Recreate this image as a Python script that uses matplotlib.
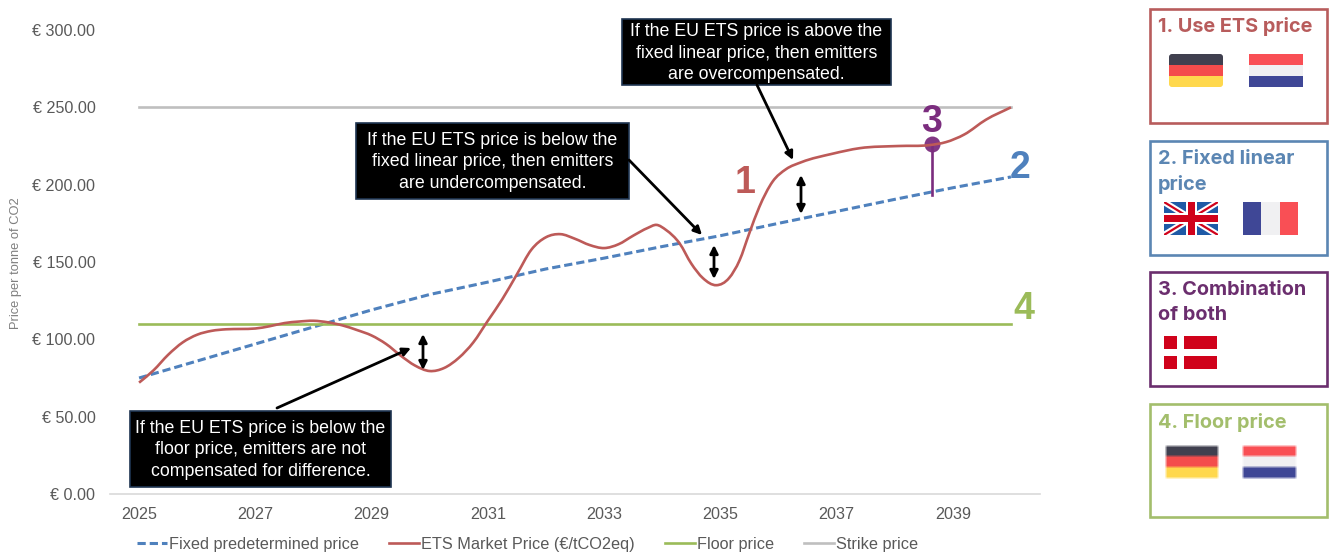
import numpy as np
import matplotlib
matplotlib.use("Agg")
import matplotlib.pyplot as plt
from matplotlib.patches import Rectangle, FancyBboxPatch, PathPatch
from matplotlib.path import Path

plt.rcParams['font.family'] = ['Liberation Sans', 'DejaVu Sans']

# annual values of the fixed price path
fixed_years = [2025, 2026, 2027, 2028, 2029, 2030, 2031, 2032, 2033, 2034, 2035, 2036, 2037, 2038, 2039, 2040]
fixed_prices = [75, 86, 97, 108, 119, 129, 137, 145.5, 152.5, 160, 167, 175, 182.7, 190.5, 198, 205]

# ETS market price, read along the curve so the years are not evenly spaced
ets_years = [2025, 2025.25, 2025.5, 2025.75, 2026, 2026.25, 2026.5, 2026.75, 2027, 2027.25, 2027.5, 2027.75,
             2028, 2028.25, 2028.5, 2028.75, 2029, 2029.25, 2029.5, 2029.75, 2030, 2030.25, 2030.5, 2030.75,
             2031, 2031.25, 2031.5, 2031.75, 2032, 2032.25, 2032.5, 2032.75, 2033, 2033.25, 2033.5, 2033.75,
             2033.9, 2034.07, 2034.3, 2034.5, 2034.7, 2034.93, 2035.15, 2035.33, 2035.5, 2035.67, 2035.9,
             2036.13, 2036.4, 2036.93, 2037.4, 2038.07, 2038.6, 2038.88, 2039.2, 2039.57, 2040]
ets_prices = [72, 80, 90, 98, 103, 105.5, 106.5, 106.7, 107, 108.5, 110.5, 111.5,
              112, 111, 109, 106, 102.5, 97, 89.5, 83, 79.5, 81.5, 88, 98,
              112, 126, 142, 158, 166, 168, 165, 161, 159, 161.5, 167, 172,
              174, 170.6, 162, 149, 139.6, 135, 139.6, 151, 168.7, 185.5, 202,
              210, 214.6, 220, 223.6, 225, 225.6, 227.5, 232.5, 242, 250]

floor_price = 110
strike_price = 250
both_year = 2038.65
both_top = 226
both_bottom = 193

y_ticks = [0, 50, 100, 150, 200, 250, 300]
x_ticks = [2025, 2027, 2029, 2031, 2033, 2035, 2037, 2039]

RED = '#BD5A58'
BLUE = '#4F81BD'
GREEN = '#9BBB59'
GREY = '#BFBFBF'
PURPLE = '#7B2D7E'
TICK = '#595959'

W, H = 1330, 552


def smooth_path(xs, ys):
    # bezier segments through the points, like a smoothed spreadsheet line
    xs = np.asarray(xs, dtype=float)
    ys = np.asarray(ys, dtype=float)
    slope = np.gradient(ys, xs)
    verts = [(xs[0], ys[0])]
    codes = [Path.MOVETO]
    for i in range(len(xs) - 1):
        dx = (xs[i + 1] - xs[i]) / 3
        verts += [(xs[i] + dx, ys[i] + slope[i] * dx),
                  (xs[i + 1] - dx, ys[i + 1] - slope[i + 1] * dx),
                  (xs[i + 1], ys[i + 1])]
        codes += [Path.CURVE4] * 3
    return Path(verts, codes)


fig = plt.figure(figsize=(W / 100, H / 100), dpi=100)
ax = fig.add_axes([110 / W, (H - 494) / H, 930 / W, 464 / H])

ax.plot(fixed_years, fixed_prices, color=BLUE, lw=2.2, dashes=(2.7, 1.3), label='Fixed predetermined price')
ax.add_patch(PathPatch(smooth_path(ets_years, ets_prices), fc='none', ec=RED, lw=1.9, zorder=2.2))
ax.plot([], [], color=RED, lw=1.9, label='ETS Market Price (€/tCO2eq)')
ax.plot([fixed_years[0], fixed_years[-1]], [floor_price, floor_price], color=GREEN, lw=1.9, label='Floor price')
ax.plot([fixed_years[0], fixed_years[-1]], [strike_price, strike_price], color=GREY, lw=1.9, label='Strike price')

# floor + fixed combination marker
ax.plot([both_year, both_year], [both_bottom, both_top], color=PURPLE, lw=1.9)
ax.plot([both_year], [both_top], 'o', color=PURPLE, ms=11.5, mew=0, alpha=0.95, zorder=2.1)

ax.set_xlim(2024.5, 2040.5)
ax.set_ylim(0, 300)
ax.set_xticks(x_ticks)
ax.set_yticks(y_ticks)
ax.set_yticklabels([f'€ {v:.2f}' for v in y_ticks])
ax.tick_params(length=0, labelsize=11.6, labelcolor=TICK)
ax.tick_params(axis='x', pad=9.5)
ax.tick_params(axis='y', pad=10.5)
for s in ['top', 'right', 'left']:
    ax.spines[s].set_visible(False)
ax.spines['bottom'].set_color('#D9D9D9')
ax.spines['bottom'].set_linewidth(1.2)

ax.legend(loc='lower left', bbox_to_anchor=(137 / W, 1 - 552 / H), bbox_transform=fig.transFigure, ncol=4,
          frameon=False, fontsize=11.7, labelcolor=TICK, borderaxespad=0, borderpad=0,
          handlelength=1.87, handletextpad=0.1, columnspacing=1.85)

# everything else is placed in pixel coordinates on a full-size layer
top = fig.add_axes([0, 0, 1, 1], zorder=5)
top.set_xlim(0, W)
top.set_ylim(H, 0)
top.axis('off')
top.patch.set_alpha(0)

top.text(16, 263, 'Price per tonne of CO2', rotation=90, ha='center', va='center', fontsize=9.3, color='#7F7F7F')


def callout(x0, y0, x1, y1, text, spacing):
    top.add_patch(Rectangle((x0, y0), x1 - x0, y1 - y0, fc='black', ec='#1F3552', lw=1.2))
    top.text((x0 + x1) / 2, (y0 + y1) / 2 + 1, text, color='white', ha='center', va='center',
             fontsize=12.8, linespacing=spacing)


def arrow(start, end, style='-|>'):
    top.annotate('', xy=end, xytext=start,
                 arrowprops=dict(arrowstyle=style, color='black', lw=2, mutation_scale=12,
                                 shrinkA=0, shrinkB=0))


callout(622, 19, 891, 85, 'If the EU ETS price is above the\nfixed linear price, then emitters\nare overcompensated.', 1.32)
callout(356, 123, 629, 199, 'If the EU ETS price is below the\nfixed linear price, then emitters\nare undercompensated.', 1.36)
callout(130, 411, 391, 487, 'If the EU ETS price is below the\nfloor price, emitters are not\ncompensated for difference.', 1.32)

arrow((757, 85), (793, 160))
arrow((629, 160), (702, 235))
arrow((277, 408), (411, 348))
arrow((423, 334), (423, 370), '<|-|>')
arrow((714, 245), (714, 279), '<|-|>')
arrow((801, 175), (801, 214), '<|-|>')

for txt, x, y, col in [('1', 745, 183, RED), ('2', 1020, 168, BLUE), ('3', 932, 122, PURPLE), ('4', 1024, 309, GREEN)]:
    top.text(x, y, txt, color=col, fontsize=27, fontweight='bold', ha='center', va='center')


def panel(y0, y1, col, lines):
    top.add_patch(Rectangle((1150, y0), 177, y1 - y0, fc='none', ec=col, lw=1.9))
    for i, line in enumerate(lines):
        top.text(1158, y0 + 18 + i * 25, line, color=col, fontsize=14.3, fontweight='bold',
                 family=['Inter', 'DejaVu Sans'], ha='left', va='center')


panel(9, 123, '#B85C5C', ['1. Use ETS price'])
panel(141, 255, '#5B86B3', ['2. Fixed linear', 'price'])
panel(272, 386, '#6B2E6E', ['3. Combination', 'of both'])
panel(404, 517, '#A3BE6C', ['4. Floor price'])


def stripes(x0, y0, x1, y1, colors, vertical=False, rounded=False):
    n = len(colors)
    clip = None
    if rounded:
        clip = FancyBboxPatch((x0 + 3, y0 + 3), x1 - x0 - 6, y1 - y0 - 6, boxstyle='round,pad=3,rounding_size=3',
                              transform=top.transData, fc='none', ec='none')
    for i, c in enumerate(colors):
        if vertical:
            r = Rectangle((x0 + i * (x1 - x0) / n, y0), (x1 - x0) / n, y1 - y0, fc=c, ec='none')
        else:
            r = Rectangle((x0, y0 + i * (y1 - y0) / n), x1 - x0, (y1 - y0) / n, fc=c, ec='none')
        top.add_patch(r)
        if clip is not None:
            r.set_clip_path(clip)


def soft_stripes(x0, y0, x1, y1, colors):
    # washed out flag: three bands pushed through a small box blur
    ink = np.zeros((y1 - y0 + 12, x1 - x0 + 12, 3))
    h = (y1 - y0) / len(colors)
    for i, c in enumerate(colors):
        ink[6 + int(i * h):6 + int((i + 1) * h), 6:-6] = 1 - np.array(matplotlib.colors.to_rgb(c))
    k = np.ones(3) / 3
    for axis in (0, 1):
        ink = np.apply_along_axis(lambda v: np.convolve(v, k, mode='same'), axis, ink)
    top.imshow(1 - ink, extent=(x0 - 6, x1 + 6, y1 + 6, y0 - 6), aspect='auto', interpolation='bilinear', zorder=1)
    top.set_xlim(0, W)
    top.set_ylim(H, 0)


DARK, FLAG_RED, GOLD = '#40404F', '#F44C4C', '#FFD84D'
NL_RED, NL_WHITE, NL_BLUE = '#F94F55', '#F0F0F2', '#3F4796'

stripes(1169, 54, 1223, 87, [DARK, FLAG_RED, GOLD], rounded=True)
stripes(1249, 54, 1303, 87, [NL_RED, NL_WHITE, NL_BLUE])
stripes(1243, 202, 1298, 235, [NL_BLUE, NL_WHITE, NL_RED], vertical=True)
soft_stripes(1166, 446, 1218, 478, [DARK, FLAG_RED, GOLD])
soft_stripes(1243, 446, 1296, 478, [NL_RED, NL_WHITE, NL_BLUE])

# union flag
ux0, uy0, ux1, uy1 = 1164, 202, 1218, 235
uk_bg = Rectangle((ux0, uy0), ux1 - ux0, uy1 - uy0, fc='#1F5AA6', ec='none')
top.add_patch(uk_bg)
for (xa, ya, xb, yb) in [(ux0, uy0, ux1, uy1), (ux0, uy1, ux1, uy0)]:
    l1, = top.plot([xa, xb], [ya, yb], color='white', lw=4.5, solid_capstyle='butt')
    l2, = top.plot([xa, xb], [ya, yb], color='#D0021B', lw=1.6, solid_capstyle='butt')
    l1.set_clip_path(uk_bg)
    l2.set_clip_path(uk_bg)
top.add_patch(Rectangle(((ux0 + ux1) / 2 - 5.5, uy0), 11, uy1 - uy0, fc='white', ec='none', zorder=3))
top.add_patch(Rectangle((ux0, (uy0 + uy1) / 2 - 5.5), ux1 - ux0, 11, fc='white', ec='none', zorder=3))
top.add_patch(Rectangle(((ux0 + ux1) / 2 - 3.5, uy0), 7, uy1 - uy0, fc='#D0021B', ec='none', zorder=3))
top.add_patch(Rectangle((ux0, (uy0 + uy1) / 2 - 3.5), ux1 - ux0, 7, fc='#D0021B', ec='none', zorder=3))

# danish flag
top.add_patch(Rectangle((1164, 336), 53, 33, fc='#D0021B', ec='none'))
top.add_patch(Rectangle((1177, 336), 6.5, 33, fc='white', ec='none'))
top.add_patch(Rectangle((1164, 349), 53, 6.5, fc='white', ec='none'))

fig.savefig('out.png', dpi=100)
